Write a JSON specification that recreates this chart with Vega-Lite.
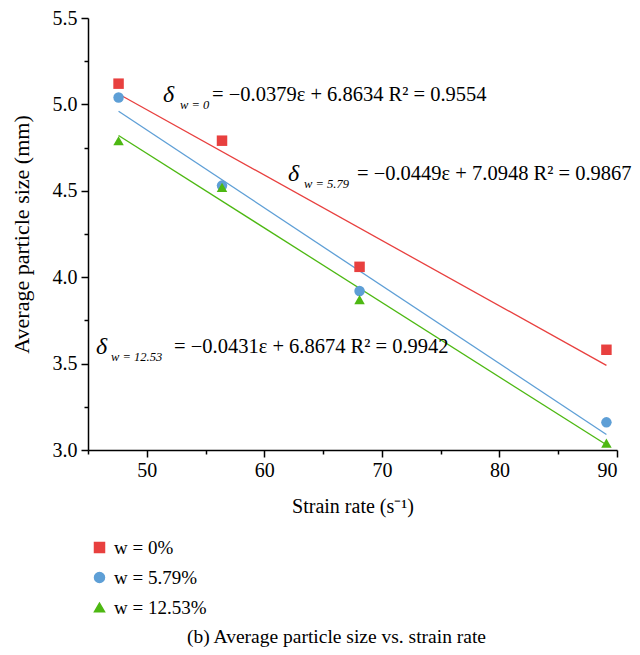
{
  "$schema": "https://vega.github.io/schema/vega-lite/v6.json",
  "autosize": "none",
  "width": 529,
  "height": 432,
  "padding": {"left": 88, "top": 18, "right": 23, "bottom": 205},
  "background": "white",
  "config": {
    "font": "Liberation Serif",
    "view": {"stroke": null},
    "legend": {"labelFont": "Liberation Serif", "labelFontSize": 19, "labelColor": "black"},
    "axis": {"grid": false, "domainColor": "black", "domainWidth": 1.5, "tickColor": "black", "tickWidth": 1.5, "labelColor": "black", "titleColor": "black", "labelFont": "Liberation Serif", "titleFont": "Liberation Serif", "labelFontSize": 20, "titleFontSize": 20, "titleFontWeight": "normal"}
  },
  "title": {"text": "(b) Average particle size vs. strain rate", "orient": "bottom", "anchor": "middle", "frame": "group", "dx": -16, "offset": 10, "fontSize": 19.5, "fontWeight": "normal", "font": "Liberation Serif", "color": "black"},
  "datasets": {
    "pts": [
      {"rate": 47.6, "size": 5.12, "w": "w = 0%"},
      {"rate": 56.4, "size": 4.79, "w": "w = 0%"},
      {"rate": 68.1, "size": 4.06, "w": "w = 0%"},
      {"rate": 89.1, "size": 3.58, "w": "w = 0%"},
      {"rate": 47.6, "size": 5.04, "w": "w = 5.79%"},
      {"rate": 56.4, "size": 4.53, "w": "w = 5.79%"},
      {"rate": 68.1, "size": 3.92, "w": "w = 5.79%"},
      {"rate": 89.1, "size": 3.16, "w": "w = 5.79%"},
      {"rate": 47.6, "size": 4.79, "w": "w = 12.53%"},
      {"rate": 56.4, "size": 4.52, "w": "w = 12.53%"},
      {"rate": 68.1, "size": 3.87, "w": "w = 12.53%"},
      {"rate": 89.1, "size": 3.04, "w": "w = 12.53%"}
    ],
    "fits": [
      {"rate": 47.6, "size": 5.06, "w": "w = 0%"},
      {"rate": 89.1, "size": 3.49, "w": "w = 0%"},
      {"rate": 47.6, "size": 4.96, "w": "w = 5.79%"},
      {"rate": 89.1, "size": 3.09, "w": "w = 5.79%"},
      {"rate": 47.6, "size": 4.82, "w": "w = 12.53%"},
      {"rate": 89.1, "size": 3.03, "w": "w = 12.53%"}
    ],
    "delta": [
      {"rate": 51.38, "size": 5.054, "t": "δ"},
      {"rate": 62.01, "size": 4.597, "t": "δ"},
      {"rate": 45.68, "size": 3.596, "t": "δ"}
    ],
    "subs": [
      {"rate": 52.83, "size": 4.997, "t": "w = 0"},
      {"rate": 63.38, "size": 4.539, "t": "w = 5.79"},
      {"rate": 46.96, "size": 3.538, "t": "w = 12.53"}
    ],
    "eqs": [
      {"rate": 55.55, "size": 5.054, "t": "= −0.0379ε + 6.8634 R² = 0.9554"},
      {"rate": 67.88, "size": 4.597, "t": "= −0.0449ε + 7.0948 R² = 0.9867"},
      {"rate": 52.32, "size": 3.596, "t": "= −0.0431ε + 6.8674 R² = 0.9942"}
    ]
  },
  "resolve": {"axis": {"x": "independent", "y": "independent"}},
  "layer": [
    {
      "data": {"name": "fits"},
      "mark": {"type": "line", "strokeWidth": 1.3},
      "encoding": {
        "x": {"field": "rate", "type": "quantitative", "scale": {"domain": [45, 90], "nice": false, "zero": false}, "axis": {"orient": "bottom", "values": [45, 55, 65, 75, 85], "labels": false, "tickSize": 4, "title": null, "domain": false}},
        "y": {"field": "size", "type": "quantitative", "scale": {"domain": [3, 5.5], "nice": false, "zero": false}, "axis": {"orient": "left", "values": [3.25, 3.75, 4.25, 4.75, 5.25], "labels": false, "tickSize": 4, "title": null, "domain": false}},
        "color": {"field": "w", "type": "nominal", "scale": {"domain": ["w = 0%", "w = 5.79%", "w = 12.53%"], "range": ["#E8403F", "#5E9FD6", "#4DB812"]}},
        "detail": {"field": "w"}
      }
    },
    {
      "data": {"name": "pts"},
      "mark": {"type": "point", "filled": true, "opacity": 1, "size": 110},
      "encoding": {
        "x": {"field": "rate", "type": "quantitative", "scale": {"domain": [45, 90], "nice": false, "zero": false}, "axis": {"orient": "bottom", "values": [50, 60, 70, 80, 90], "tickSize": 7, "labelPadding": 3, "title": "Strain rate (s⁻¹)", "titlePadding": 16}},
        "y": {"field": "size", "type": "quantitative", "scale": {"domain": [3, 5.5], "nice": false, "zero": false}, "axis": {"orient": "left", "values": [3.0, 3.5, 4.0, 4.5, 5.0, 5.5], "format": ".1f", "tickSize": 7, "labelPadding": 4, "title": "Average particle size (mm)", "titleFontSize": 22, "titlePadding": 19}},
        "color": {"field": "w", "type": "nominal", "scale": {"domain": ["w = 0%", "w = 5.79%", "w = 12.53%"], "range": ["#E8403F", "#5E9FD6", "#4DB812"]}, "legend": {"orient": "none", "legendX": 2, "legendY": 520, "title": null, "labelFontSize": 19, "labelFont": "Liberation Serif", "labelColor": "black", "rowPadding": 10, "symbolSize": 100, "padding": 0, "labelOffset": 5}},
        "shape": {"field": "w", "type": "nominal", "scale": {"domain": ["w = 0%", "w = 5.79%", "w = 12.53%"], "range": ["square", "circle", "triangle-up"]}}
      }
    },
    {
      "data": {"name": "delta"},
      "mark": {"type": "text", "align": "left", "baseline": "middle", "fontSize": 24, "fontStyle": "italic", "font": "Liberation Serif", "color": "black"},
      "encoding": {"x": {"field": "rate", "type": "quantitative", "axis": null}, "y": {"field": "size", "type": "quantitative", "axis": null}, "text": {"field": "t"}}
    },
    {
      "data": {"name": "subs"},
      "mark": {"type": "text", "align": "left", "baseline": "middle", "fontSize": 12.5, "fontStyle": "italic", "font": "Liberation Serif", "color": "black"},
      "encoding": {"x": {"field": "rate", "type": "quantitative", "axis": null}, "y": {"field": "size", "type": "quantitative", "axis": null}, "text": {"field": "t"}}
    },
    {
      "data": {"name": "eqs"},
      "mark": {"type": "text", "align": "left", "baseline": "middle", "fontSize": 20.5, "font": "Liberation Serif", "color": "black"},
      "encoding": {"x": {"field": "rate", "type": "quantitative", "axis": null}, "y": {"field": "size", "type": "quantitative", "axis": null}, "text": {"field": "t"}}
    }
  ]
}
